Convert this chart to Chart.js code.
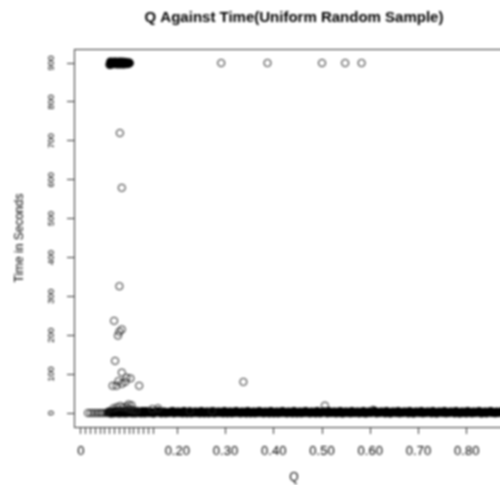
<!DOCTYPE html>
<html>
<head>
<meta charset="utf-8">
<script src="https://cdn.jsdelivr.net/npm/chart.js@4"></script>
<style>
html, body { margin: 0; padding: 0; background: #fff; overflow: hidden; }
#wrap { width: 500px; height: 485px; overflow: hidden; }
canvas { filter: blur(0.8px); }
</style>
</head>
<body>
<div id="wrap"><canvas id="qtime" width="530" height="485"></canvas></div>
<script>
// x ticks: dense unlabelled marks near 0, then every 0.1
var xTickValues = [0, 0.01, 0.02, 0.03, 0.04, 0.05, 0.06, 0.07, 0.08, 0.09, 0.10, 0.11, 0.12, 0.13, 0.14, 0.15,
    0.2, 0.3, 0.4, 0.5, 0.6, 0.7, 0.8];
var xTickLabels = ['0', '', '', '', '', '', '', '', '', '', '', '', '', '', '', '',
    '0.20', '0.30', '0.40', '0.50', '0.60', '0.70', '0.80'];
var yTickValues = [0, 100, 200, 300, 400, 500, 600, 700, 800, 900];

// the pile of runs that hit the 900 s limit at low Q
var cappedRuns = [
    [0.060, 896], [0.0615, 903], [0.063, 900], [0.0645, 897], [0.066, 902], [0.0675, 899], [0.069, 900],
    [0.0705, 903], [0.072, 898], [0.0735, 902], [0.075, 901], [0.0765, 897], [0.078, 900], [0.0795, 903],
    [0.081, 899], [0.0825, 897], [0.084, 901], [0.0855, 903], [0.087, 900], [0.0885, 897], [0.090, 898],
    [0.0915, 902], [0.093, 900], [0.095, 898], [0.097, 901], [0.099, 899], [0.101, 900]
];

// other slow runs
var slowRuns = [
    [0.291, 900], [0.387, 900], [0.500, 900], [0.548, 900], [0.582, 900],
    [0.081, 720], [0.085, 579], [0.080, 326], [0.069, 237], [0.085, 215], [0.080, 209], [0.077, 199],
    [0.071, 134], [0.085, 104], [0.095, 91], [0.103, 89], [0.121, 70], [0.066, 70], [0.074, 70],
    [0.085, 75], [0.092, 80], [0.078, 82], [0.337, 80], [0.506, 19], [0.606, 8]
];

// a few stray fast runs near 0 s (drawn thin)
var strayRuns = [
    [0.015, 0], [0.021, 0], [0.027, 0], [0.033, 0], [0.038, 0], [0.043, 0], [0.048, 0], [0.053, 1],
    [0.068, 12], [0.075, 15], [0.082, 18], [0.088, 14], [0.095, 16], [0.100, 10], [0.108, 8], [0.115, 6],
    [0.099, 22], [0.105, 20], [0.148, 10], [0.160, 12], [0.226, 5], [0.272, 5]
];

// the mass of fast runs, close to 0 s
var fastRuns = [
    [0.057, 1], [0.060, 2], [0.063, 0], [0.066, 3], [0.069, 1], [0.072, 4], [0.075, 2], [0.078, 0],
    [0.081, 5], [0.084, 1], [0.087, 3], [0.090, 0], [0.093, 2], [0.096, 4], [0.099, 1], [0.103, 3],
    [0.107, 0], [0.111, 2], [0.115, 1], [0.120, 3], [0.125, 0], [0.130, 2], [0.135, 4], [0.141, 1],
    [0.146, 2], [0.152, 0], [0.158, 3], [0.164, 1], [0.170, 2], [0.176, 0], [0.182, 1], [0.188, 3],
    [0.193, 0], [0.199, 2], [0.205, 1], [0.211, 0], [0.217, 2], [0.223, 1], [0.229, 0], [0.235, 2],
    [0.241, 1], [0.247, 0], [0.253, 1], [0.259, 2], [0.265, 0], [0.271, 1], [0.277, 0], [0.283, 2],
    [0.289, 1], [0.295, 0], [0.301, 1], [0.307, 2], [0.313, 0], [0.319, 1], [0.325, 2], [0.331, 0],
    [0.337, 1], [0.343, 0], [0.349, 2], [0.355, 1], [0.361, 0], [0.367, 1], [0.373, 2], [0.379, 0],
    [0.385, 1], [0.391, 0], [0.397, 2], [0.403, 1], [0.409, 0], [0.415, 1], [0.421, 2], [0.427, 0],
    [0.433, 1], [0.439, 0], [0.445, 2], [0.451, 1], [0.457, 0], [0.463, 1], [0.469, 2], [0.475, 0],
    [0.481, 1], [0.487, 0], [0.493, 2], [0.499, 1], [0.505, 3], [0.511, 0], [0.517, 1], [0.523, 2],
    [0.529, 0], [0.535, 1], [0.541, 0], [0.547, 2], [0.553, 1], [0.559, 0], [0.565, 1], [0.571, 2],
    [0.577, 0], [0.583, 1], [0.589, 0], [0.595, 2], [0.601, 1], [0.607, 3], [0.613, 0], [0.619, 1],
    [0.625, 2], [0.631, 0], [0.637, 1], [0.643, 0], [0.649, 2], [0.655, 1], [0.661, 0], [0.667, 1],
    [0.673, 2], [0.679, 0], [0.685, 1], [0.691, 0], [0.697, 2], [0.703, 1], [0.709, 0], [0.715, 1],
    [0.721, 2], [0.727, 0], [0.733, 1], [0.739, 0], [0.745, 2], [0.751, 1], [0.757, 0], [0.763, 1],
    [0.769, 2], [0.775, 0], [0.781, 1], [0.787, 0], [0.793, 1], [0.805, 2], [0.811, 0], [0.817, 1],
    [0.823, 2], [0.829, 0], [0.835, 1], [0.841, 0], [0.847, 2], [0.853, 1], [0.859, 0], [0.865, 1],
    [0.871, 2], [0.877, 0], [0.883, 1], [0.889, 0], [0.895, 1]
];

// more fast runs that fill the band between the ones above
var fastRunsMore = [
    [0.0585, 3], [0.0615, 0], [0.0645, 2], [0.0675, 0], [0.0705, 3], [0.0735, 1], [0.0765, 4], [0.0795, 2],
    [0.0825, 0], [0.0855, 3], [0.0885, 1], [0.0915, 4], [0.0945, 0], [0.0975, 2], [0.101, 5], [0.105, 1],
    [0.109, 3], [0.113, 0], [0.1175, 2], [0.1225, 1], [0.1275, 4], [0.1325, 0], [0.138, 2], [0.1435, 3],
    [0.149, 0], [0.155, 2], [0.161, 4], [0.167, 0], [0.173, 3], [0.179, 1], [0.185, 2], [0.1905, 4],
    [0.196, 1], [0.202, 3], [0.208, 2], [0.214, 4], [0.220, 0], [0.226, 3], [0.232, 1], [0.238, 3],
    [0.244, 2], [0.250, 4], [0.256, 0], [0.262, 3], [0.268, 2], [0.274, 4], [0.280, 1], [0.286, 3],
    [0.292, 2], [0.298, 4], [0.304, 0], [0.310, 3], [0.316, 2], [0.322, 4], [0.328, 1], [0.334, 3],
    [0.340, 2], [0.346, 4], [0.352, 0], [0.358, 3], [0.364, 2], [0.370, 4], [0.376, 1], [0.382, 3],
    [0.388, 2], [0.394, 4], [0.400, 0], [0.406, 3], [0.412, 2], [0.418, 4], [0.424, 1], [0.430, 3],
    [0.436, 2], [0.442, 4], [0.448, 0], [0.454, 3], [0.460, 2], [0.466, 4], [0.472, 1], [0.478, 3],
    [0.484, 2], [0.490, 4], [0.496, 0], [0.502, 3], [0.508, 2], [0.514, 4], [0.520, 1], [0.526, 3],
    [0.532, 2], [0.538, 4], [0.544, 0], [0.550, 3], [0.556, 2], [0.562, 4], [0.568, 1], [0.574, 3],
    [0.580, 2], [0.586, 4], [0.592, 0], [0.598, 3], [0.604, 2], [0.610, 4], [0.616, 1], [0.622, 3],
    [0.628, 2], [0.634, 4], [0.640, 0], [0.646, 3], [0.652, 2], [0.658, 4], [0.664, 1], [0.670, 3],
    [0.676, 2], [0.682, 4], [0.688, 0], [0.694, 3], [0.700, 2], [0.706, 4], [0.712, 1], [0.718, 3],
    [0.724, 2], [0.730, 4], [0.736, 0], [0.742, 3], [0.748, 2], [0.754, 4], [0.760, 1], [0.766, 3],
    [0.772, 2], [0.778, 4], [0.784, 0], [0.790, 3], [0.796, 2], [0.799, 0], [0.802, 4], [0.808, 1],
    [0.814, 3], [0.820, 2], [0.826, 4], [0.832, 0], [0.838, 3], [0.844, 2], [0.850, 4], [0.856, 1],
    [0.862, 3], [0.868, 2], [0.874, 4], [0.880, 0], [0.886, 3], [0.892, 2], [0.898, 4]
];

function toPoints(rows) {
    return rows.map(function (r) { return {x: r[0], y: r[1]}; });
}

// R style full box around the plot region
var boxPlugin = {
    id: 'box',
    afterDraw: function (chart) {
        var a = chart.chartArea, ctx = chart.ctx;
        ctx.save();
        ctx.strokeStyle = '#333';
        ctx.lineWidth = 1;
        ctx.strokeRect(a.left + 0.5, a.top + 0.5, a.right - a.left, a.bottom - a.top);
        ctx.restore();
    }
};

var pointStyle = {
    pointRadius: 3.6,
    pointHoverRadius: 3.6,
    pointBorderWidth: 1,
    borderColor: '#222',
    backgroundColor: 'rgba(0,0,0,0)'
};
// overplotted groups: heavier so they read as solid black
var bandStyle = {
    pointRadius: 3.4,
    pointHoverRadius: 3.4,
    pointBorderWidth: 2,
    borderColor: '#000',
    backgroundColor: 'rgba(0,0,0,0)'
};

new Chart(document.getElementById('qtime'), {
    type: 'scatter',
    data: {
        datasets: [
            Object.assign({label: 'stray', data: toPoints(strayRuns)}, pointStyle),
            Object.assign({label: 'fast', data: toPoints(fastRuns)}, bandStyle),
            Object.assign({label: 'fast2', data: toPoints(fastRunsMore)}, bandStyle),
            Object.assign({label: 'capped', data: toPoints(cappedRuns)}, bandStyle),
            Object.assign({label: 'slow', data: toPoints(slowRuns)}, pointStyle)
        ]
    },
    plugins: [boxPlugin],
    options: {
        responsive: false,
        animation: false,
        layout: {padding: {left: 0, right: 16, top: 0, bottom: 0}},
        plugins: {
            legend: {display: false},
            tooltip: {enabled: false},
            title: {
                display: true,
                fullSize: false,
                text: 'Q Against Time(Uniform Random Sample)',
                color: '#000',
                font: {family: 'Liberation Sans', size: 15, weight: 'bold'},
                padding: {top: 9, bottom: 22}
            }
        },
        scales: {
            x: {
                type: 'linear',
                min: -0.0141,
                max: 0.898,
                afterFit: function (s) { s.height = 58; },
                afterBuildTicks: function (s) {
                    s.ticks = xTickValues.map(function (v) { return {value: v}; });
                },
                border: {display: false},
                grid: {drawOnChartArea: false, drawTicks: true, tickLength: 7, color: '#333'},
                ticks: {
                    autoSkip: false,
                    maxRotation: 0,
                    padding: 10,
                    color: '#000',
                    font: {family: 'Liberation Sans', size: 13},
                    callback: function (v, i) { return xTickLabels[i]; }
                },
                title: {
                    display: true,
                    text: 'Q',
                    color: '#000',
                    font: {family: 'Liberation Sans', size: 12},
                    padding: 0
                }
            },
            y: {
                type: 'linear',
                min: -36,
                max: 936,
                afterFit: function (s) { s.width = 74; },
                afterBuildTicks: function (s) {
                    s.ticks = yTickValues.map(function (v) { return {value: v}; });
                },
                border: {display: false},
                grid: {drawOnChartArea: false, drawTicks: true, tickLength: 7, color: '#333'},
                ticks: {
                    autoSkip: false,
                    minRotation: 90,
                    maxRotation: 90,
                    crossAlign: 'center',
                    padding: 8,
                    color: '#000',
                    font: {family: 'Liberation Sans', size: 9},
                    callback: function (v) { return String(v); }
                },
                title: {
                    display: true,
                    text: 'Time in Seconds',
                    color: '#000',
                    font: {family: 'Liberation Sans', size: 12},
                    padding: {top: 12, bottom: 0}
                }
            }
        }
    }
});
</script>
</body>
</html>
